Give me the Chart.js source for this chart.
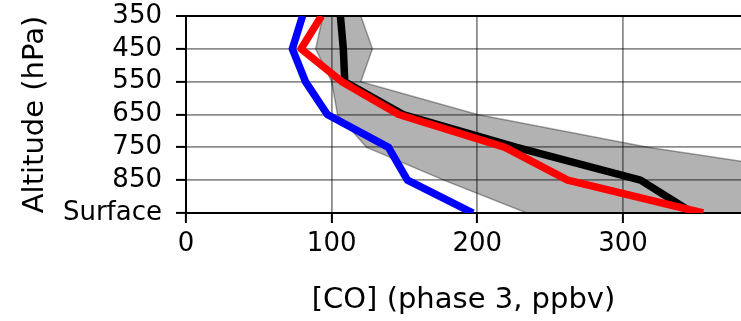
<!DOCTYPE html>
<html>
<head>
<meta charset="utf-8">
<script src="https://cdn.jsdelivr.net/npm/chart.js@4/dist/chart.umd.min.js"></script>
<style>
  html, body { margin: 0; padding: 0; background: #fff; }
  #wrap { width: 741px; height: 321px; position: relative; }
</style>
</head>
<body>
<div id="wrap"><canvas id="c" width="741" height="321"></canvas></div>
<script>
const altitudes = ['350', '450', '550', '650', '750', '850', 'Surface'];
const xTicks = [0, 100, 200, 300];
const blueSeries = [80, 73, 82, 97, 139, 152, 197];
const redSeries = [93, 79, 107, 146, 219, 262, 355];
const blackSeries = [106, 108, 109, 149, 227, 312, 348];
const bandLower = [94, 89, 100, 104, 124, 177, 234];
const bandUpper = [120, 128, 120, 200, 317, 467, 560];

const FONT = "'DejaVu Sans', sans-serif";

const lineDs = (data, color) => ({
  data, borderColor: color, backgroundColor: color, borderWidth: 7.5,
  pointRadius: 0, tension: 0, fill: false, clip: 0,
  borderJoinStyle: 'round', borderCapStyle: 'butt'
});

new Chart(document.getElementById('c'), {
  type: 'line',
  data: {
    labels: altitudes,
    datasets: [
      lineDs(blueSeries, '#0000ff'),
      lineDs(redSeries, '#ff0000'),
      lineDs(blackSeries, '#000000'),
      { data: bandLower, borderColor: 'rgba(0,0,0,0.35)', borderWidth: 1.5,
        pointRadius: 0, tension: 0, fill: false, clip: 0 },
      { data: bandUpper, borderColor: 'rgba(0,0,0,0.35)', borderWidth: 1.5,
        backgroundColor: 'rgba(0,0,0,0.3)',
        pointRadius: 0, tension: 0, fill: '-1', clip: 0 }
    ]
  },
  options: {
    indexAxis: 'y',
    responsive: false,
    animation: false,
    devicePixelRatio: 1,
    layout: { padding: { top: 16, left: 0, right: 0, bottom: 0 } },
    plugins: { legend: { display: false }, tooltip: { enabled: false } },
    scales: {
      x: {
        type: 'linear', min: 0, max: 381,
        afterBuildTicks: (s) => { s.ticks = xTicks.map(v => ({ value: v })); },
        afterFit: (s) => { s.height = 108; s.paddingLeft = 0; s.paddingRight = 0; },
        ticks: { font: { family: FONT, size: 26 }, color: '#000', padding: 6, includeBounds: false, maxRotation: 0 },
        grid: {
          color: (c) => (c.tick && c.tick.value === 0) ? 'rgba(0,0,0,0)' : 'rgba(0,0,0,0.45)',
          lineWidth: 1.8, tickColor: '#000', tickWidth: 2, tickLength: 10
        },
        border: { color: '#000', width: 2 },
        title: { display: true, text: '[CO] (phase 3, ppbv)', font: { family: FONT, size: 29 }, color: '#000', padding: { top: 0, bottom: 3 } }
      },
      y: {
        type: 'category', offset: false,
        afterFit: (s) => { s.width = 186; s.paddingTop = 0; s.paddingBottom = 0; },
        ticks: { font: { family: FONT, size: 26 }, color: '#000', padding: 14, autoSkip: false },
        grid: {
          color: (c) => c.index === 0 ? '#000' : 'rgba(0,0,0,0.45)',
          lineWidth: (c) => c.index === 0 ? 2 : 1.8,
          tickColor: '#000', tickWidth: 2, tickLength: 10
        },
        border: { color: '#000', width: 2 },
        title: { display: true, text: 'Altitude (hPa)', font: { family: FONT, size: 29 }, color: '#000', padding: { top: 18, bottom: 0 } }
      }
    }
  }
});
</script>
</body>
</html>
